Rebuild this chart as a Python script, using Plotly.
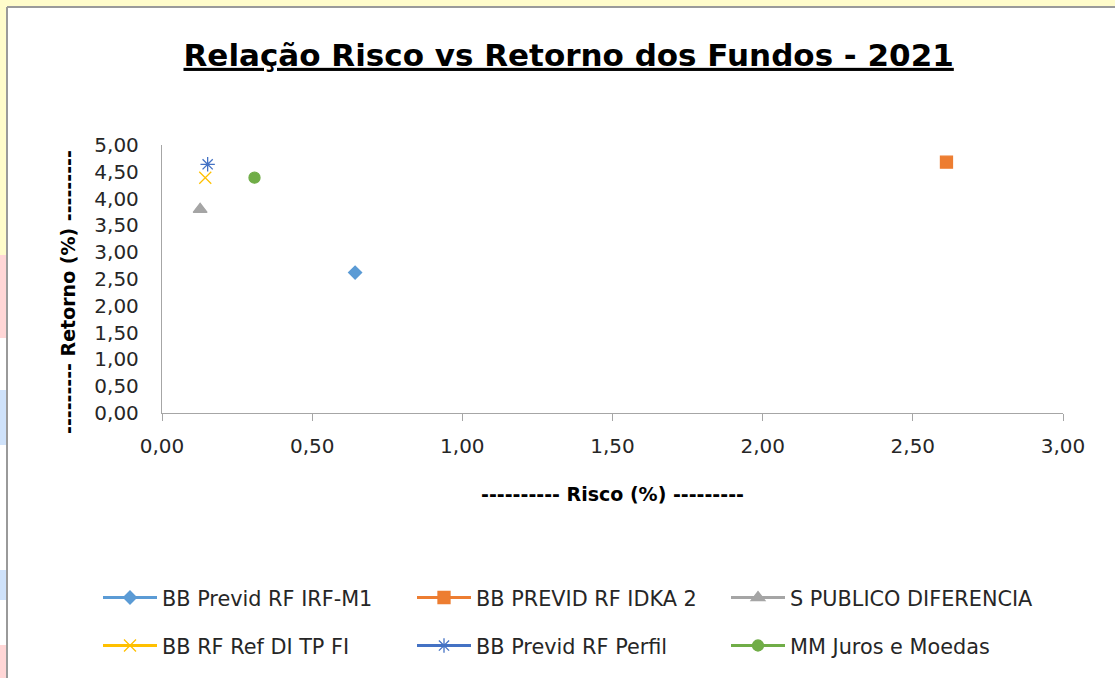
import plotly.graph_objects as go

# ---------------- data ----------------
names = ["BB Previd RF IRF-M1", "BB PREVID RF IDKA 2", "S PUBLICO DIFERENCIA",
         "BB RF Ref DI TP FI", "BB Previd RF Perfil", "MM Juros e Moedas"]
risco = [0.643, 2.612, 0.127, 0.144, 0.152, 0.308]
retorno = [2.62, 4.68, 3.80, 4.39, 4.64, 4.39]

colors = ["#5B9BD5", "#ED7D31", "#A5A5A5", "#FFC000", "#4472C4", "#70AD47"]
symbols = ["diamond", "square", "triangle-up", "x-thin-open", "asterisk-open", "circle"]
sizes = [10, 12, 12, 12, 12, 11]
legend_ids = ["legend", "legend", "legend", "legend2", "legend2", "legend2"]

title_text = "Relação Risco vs Retorno dos Fundos - 2021"
x_title = "---------- Risco (%) ---------"
y_title = "--------- Retorno (%) ---------"

# ---------------- layout geometry ----------------
W, H = 1115, 678
ML, MR, MT, MB = 162, 52, 145, 265
PW, PH = W - ML - MR, H - MT - MB
FONT = "'DejaVu Sans', Verdana, sans-serif"


def px_x(px):
    return (px - ML) / PW


def px_y(py):
    return (H - MB - py) / PH


fig = go.Figure()
for i in range(len(names)):
    fig.add_trace(go.Scatter(
        x=[risco[i]], y=[retorno[i]], name=names[i],
        mode="lines+markers",
        line=dict(color=colors[i], width=3),
        marker=dict(symbol=symbols[i], size=sizes[i], color=colors[i],
                    line=dict(color=colors[i], width=1.3)),
        legend=legend_ids[i],
        hoverinfo="x+y+name",
    ))

# background decoration (frame)
shapes = []
yellow = "#FFFCCB"
shapes.append(dict(type="rect", xref="paper", yref="paper", layer="below",
                   x0=px_x(0), x1=px_x(W), y0=px_y(0), y1=px_y(6.5),
                   fillcolor=yellow, line_width=0))
shapes.append(dict(type="rect", xref="paper", yref="paper", layer="below",
                   x0=px_x(0), x1=px_x(6.5), y0=px_y(0), y1=px_y(H),
                   fillcolor=yellow, line_width=0))
for (y0, y1, c) in [(255, 338, "#FFD6D6"), (338, 390, "#FFFFFF"), (390, 445, "#CFE2FA"),
                    (445, 570, "#FFFFFF"), (570, 600, "#CFE2FA"), (600, 645, "#FFFFFF"),
                    (645, 678, "#FFD6D6")]:
    shapes.append(dict(type="rect", xref="paper", yref="paper", layer="below",
                       x0=px_x(0), x1=px_x(6.5), y0=px_y(y0), y1=px_y(y1),
                       fillcolor=c, line_width=0))
shapes.append(dict(type="line", xref="paper", yref="paper",
                   x0=px_x(7), x1=px_x(W), y0=px_y(7), y1=px_y(7),
                   line=dict(color="#9A9A9A", width=2)))
shapes.append(dict(type="line", xref="paper", yref="paper",
                   x0=px_x(7), x1=px_x(7), y0=px_y(7), y1=px_y(H),
                   line=dict(color="#9A9A9A", width=2)))

legend_common = dict(orientation="h", xanchor="left", yanchor="middle",
                     font=dict(family=FONT, size=20.8, color="#262626"),
                     itemwidth=54, entrywidth=245, bgcolor="rgba(0,0,0,0)",
                     itemclick=False, itemdoubleclick=False)

fig.update_layout(
    width=W, height=H, autosize=False,
    margin=dict(l=ML, r=MR, t=MT, b=MB, pad=0),
    paper_bgcolor="white", plot_bgcolor="white",
    separators=",.",
    title=dict(text="<b><u>" + title_text + "</u></b>", x=0.51, xanchor="center",
               y=1 - 55 / H, yanchor="middle",
               font=dict(family=FONT, size=31, color="#000000")),
    xaxis=dict(range=[0, 3], dtick=0.5, tickformat=".2f", showgrid=False, zeroline=False,
               showline=True, linecolor="#A6A6A6", linewidth=1.3,
               ticks="outside", ticklen=7, tickcolor="#A6A6A6", tickwidth=1.3,
               tickfont=dict(family=FONT, size=20, color="#262626"),
               ticklabelstandoff=8,
               title=dict(text="<b>" + x_title + "</b>", standoff=30,
                          font=dict(family=FONT, size=19, color="#000000"))),
    yaxis=dict(range=[0, 5], dtick=0.5, tickformat=".2f", showgrid=False, zeroline=False,
               showline=True, linecolor="#A6A6A6", linewidth=1.3, ticks="",
               tickfont=dict(family=FONT, size=20, color="#262626"),
               ticklabelstandoff=18),
    annotations=[dict(text="<b>" + y_title + "</b>", xref="paper", yref="paper",
                      x=px_x(68), y=px_y(292), xanchor="center", yanchor="middle",
                      textangle=-90, showarrow=False,
                      font=dict(family=FONT, size=19, color="#000000"))],
    legend=dict(x=px_x(98), y=px_y(598), **legend_common),
    legend2=dict(x=px_x(98), y=px_y(646), **legend_common),
    shapes=shapes,
    showlegend=True,
)

fig.write_html("out.html", config={"displayModeBar": False},
               post_script="document.body.style.margin='0px';")
